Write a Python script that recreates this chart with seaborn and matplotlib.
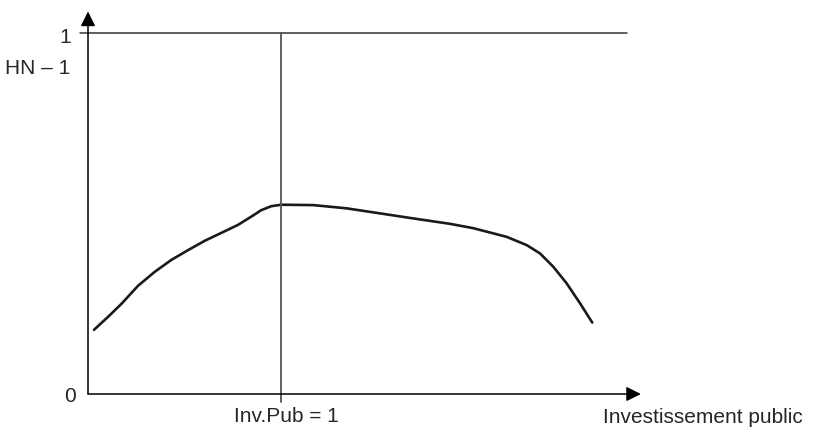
import pandas as pd
import matplotlib
matplotlib.use("Agg")
import matplotlib.pyplot as plt
import seaborn as sns

# curve values (x in units of Inv.Pub, y between 0 and 1)
inv_pub = [0.031, 0.104, 0.173, 0.259, 0.346, 0.432, 0.518, 0.605, 0.691, 0.777,
           0.846, 0.898, 0.950, 1.002, 1.167, 1.340, 1.513, 1.686, 1.876, 1.996,
           2.169, 2.273, 2.342, 2.411, 2.480, 2.549, 2.613]
hn = [0.178, 0.214, 0.250, 0.300, 0.339, 0.372, 0.399, 0.425, 0.447, 0.469,
      0.492, 0.510, 0.521, 0.525, 0.524, 0.515, 0.501, 0.487, 0.472, 0.460,
      0.436, 0.413, 0.390, 0.353, 0.307, 0.252, 0.198]

y_ticks = [0, 1]
y_tick_labels = ["0", "1"]
x_tick = 1
x_tick_label = "Inv.Pub = 1"
x_label = "Investissement public"
y_label = "HN \u2013 1"

df = pd.DataFrame({"inv_pub": inv_pub, "hn": hn})

sns.set_style("white")
plt.rcParams["font.family"] = ["Liberation Sans", "DejaVu Sans"]

fig = plt.figure(figsize=(8.15, 4.32), dpi=100)
ax = fig.add_axes([0, 0, 1, 1])
ax.set_xlim(-0.456, 3.767)
ax.set_ylim(-0.1054, 1.0929)
ax.axis("off")

sns.lineplot(data=df, x="inv_pub", y="hn", ax=ax, color="#1a1a1a", lw=1.9,
             solid_joinstyle="round", solid_capstyle="round")

# axes with arrows
arrow = dict(arrowstyle="-|>", mutation_scale=22, lw=1.1, color="black",
             shrinkA=0, shrinkB=0)
ax.annotate("", xy=(0, 1.061), xytext=(0, 0), arrowprops=arrow)
ax.annotate("", xy=(2.865, 0), xytext=(0, 0), arrowprops=arrow)

# horizontal line at 1 and vertical line at Inv.Pub = 1
ax.plot([-0.04, 2.793], [y_ticks[1], y_ticks[1]], color="#333333", lw=1.1)
ax.plot([x_tick, x_tick], [-0.021, y_ticks[1]], color="#555555", lw=1.3)

fs = 15
ax.text(-0.09, 0.989, y_tick_labels[1], ha="right", va="center", fontsize=fs)
ax.text(-0.09, 0.903, y_label, ha="right", va="center", fontsize=fs)
ax.text(-0.065, -0.008, y_tick_labels[0], ha="right", va="center", fontsize=fs)
ax.text(x_tick + 0.026, -0.062, x_tick_label, ha="center", va="center", fontsize=fs)
ax.text(2.668, -0.064, x_label, ha="left", va="center", fontsize=fs)

fig.savefig("out.png", dpi=100)
